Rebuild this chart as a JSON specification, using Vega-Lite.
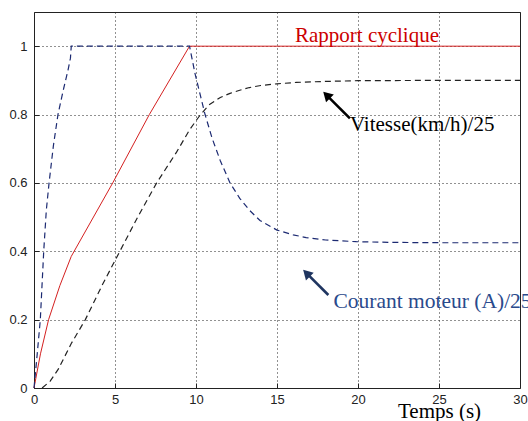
{
  "$schema": "https://vega.github.io/schema/vega-lite/v6.json",
  "width": 486,
  "height": 376,
  "autosize": "none",
  "padding": {"left": 34, "top": 12, "right": 8, "bottom": 33},
  "background": "white",
  "config": {
    "view": {"stroke": "#222", "strokeWidth": 1},
    "axis": {
      "labelFont": "Liberation Sans",
      "labelFontSize": 13,
      "labelColor": "#222",
      "grid": true,
      "gridColor": "#222",
      "gridDash": [1, 3],
      "gridOpacity": 1,
      "gridWidth": 1,
      "domain": false,
      "ticks": true,
      "tickSize": -5,
      "tickColor": "#222"
    }
  },
  "datasets": {
    "curves": [
      {"s": "rapport", "x": 0, "y": 0},
      {"s": "rapport", "x": 0.4, "y": 0.1},
      {"s": "rapport", "x": 0.9, "y": 0.2},
      {"s": "rapport", "x": 1.6, "y": 0.3},
      {"s": "rapport", "x": 2.3, "y": 0.385},
      {"s": "rapport", "x": 4.86, "y": 0.6},
      {"s": "rapport", "x": 7.12, "y": 0.8},
      {"s": "rapport", "x": 9.6, "y": 1.0},
      {"s": "rapport", "x": 30, "y": 1.0},

      {"s": "courant", "x": 0, "y": 0},
      {"s": "courant", "x": 0.2, "y": 0.1},
      {"s": "courant", "x": 0.39, "y": 0.2},
      {"s": "courant", "x": 0.6, "y": 0.4},
      {"s": "courant", "x": 0.76, "y": 0.52},
      {"s": "courant", "x": 0.93, "y": 0.6},
      {"s": "courant", "x": 1.2, "y": 0.71},
      {"s": "courant", "x": 1.48, "y": 0.8},
      {"s": "courant", "x": 1.8, "y": 0.87},
      {"s": "courant", "x": 2.1, "y": 0.93},
      {"s": "courant", "x": 2.25, "y": 0.965},
      {"s": "courant", "x": 2.3, "y": 1.0},
      {"s": "courant", "x": 9.6, "y": 1.0},
      {"s": "courant", "x": 9.94, "y": 0.92},
      {"s": "courant", "x": 10.3, "y": 0.85},
      {"s": "courant", "x": 10.56, "y": 0.8},
      {"s": "courant", "x": 11.0, "y": 0.73},
      {"s": "courant", "x": 11.5, "y": 0.665},
      {"s": "courant", "x": 12.1, "y": 0.6},
      {"s": "courant", "x": 12.7, "y": 0.555},
      {"s": "courant", "x": 13.3, "y": 0.52},
      {"s": "courant", "x": 13.95, "y": 0.49},
      {"s": "courant", "x": 15, "y": 0.462},
      {"s": "courant", "x": 16, "y": 0.448},
      {"s": "courant", "x": 16.8, "y": 0.44},
      {"s": "courant", "x": 18, "y": 0.433},
      {"s": "courant", "x": 19.9, "y": 0.428},
      {"s": "courant", "x": 22, "y": 0.426},
      {"s": "courant", "x": 25, "y": 0.425},
      {"s": "courant", "x": 30, "y": 0.425},

      {"s": "vitesse", "x": 0.5, "y": 0},
      {"s": "vitesse", "x": 1.0, "y": 0.02},
      {"s": "vitesse", "x": 1.5, "y": 0.055},
      {"s": "vitesse", "x": 2.3, "y": 0.13},
      {"s": "vitesse", "x": 3.17, "y": 0.2},
      {"s": "vitesse", "x": 4.2, "y": 0.3},
      {"s": "vitesse", "x": 5.3, "y": 0.4},
      {"s": "vitesse", "x": 6.4, "y": 0.5},
      {"s": "vitesse", "x": 7.57, "y": 0.6},
      {"s": "vitesse", "x": 8.8, "y": 0.69},
      {"s": "vitesse", "x": 9.6, "y": 0.755},
      {"s": "vitesse", "x": 10.2, "y": 0.795},
      {"s": "vitesse", "x": 10.8, "y": 0.828},
      {"s": "vitesse", "x": 11.5, "y": 0.85},
      {"s": "vitesse", "x": 12.1, "y": 0.862},
      {"s": "vitesse", "x": 12.7, "y": 0.871},
      {"s": "vitesse", "x": 13.3, "y": 0.879},
      {"s": "vitesse", "x": 14, "y": 0.885},
      {"s": "vitesse", "x": 15, "y": 0.89},
      {"s": "vitesse", "x": 16.2, "y": 0.894},
      {"s": "vitesse", "x": 18, "y": 0.897},
      {"s": "vitesse", "x": 20, "y": 0.899},
      {"s": "vitesse", "x": 25, "y": 0.9},
      {"s": "vitesse", "x": 30, "y": 0.9}
    ],
    "notes": [
      {"label": "Rapport cyclique", "x": 16.11, "y": 1.0126},
      {"label": "Vitesse(km/h)/25", "x": 19.5, "y": 0.7515},
      {"label": "Courant moteur (A)/25", "x": 18.48, "y": 0.233}
    ],
    "arrows": [
      {"a": "vitesse", "x": 19.5, "y": 0.789, "x2": 18.06, "y2": 0.857},
      {"a": "courant", "x": 18.17, "y": 0.272, "x2": 16.82, "y2": 0.336}
    ],
    "heads": [
      {"a": "vitesse", "x": 18.06, "y": 0.857},
      {"a": "courant", "x": 16.82, "y": 0.336}
    ]
  },
  "encoding": {
    "x": {
      "field": "x",
      "type": "quantitative",
      "scale": {"domain": [0, 30], "nice": false, "zero": false},
      "axis": {
        "values": [0, 5, 10, 15, 20, 25, 30],
        "labelFlush": false,
        "labelPadding": 10,
        "title": "Temps (s)",
        "titleFont": "Liberation Serif",
        "titleFontSize": 21,
        "titleFontWeight": "normal",
        "titleColor": "#000",
        "titleX": 405,
        "titleY": 29,
        "titleAlign": "center",
        "titleBaseline": "alphabetic"
      }
    },
    "y": {
      "field": "y",
      "type": "quantitative",
      "scale": {"domain": [0, 1.1], "nice": false, "zero": false},
      "axis": {
        "values": [0, 0.2, 0.4, 0.6, 0.8, 1],
        "format": "~g",
        "labelPadding": 12,
        "labelFlush": false,
        "title": null
      }
    }
  },
  "layer": [
    {
      "data": {"name": "curves"},
      "transform": [{"filter": "datum.s === 'rapport'"}],
      "mark": {"type": "line", "color": "#d42020", "strokeWidth": 1}
    },
    {
      "data": {"name": "curves"},
      "transform": [{"filter": "datum.s === 'courant'"}],
      "mark": {"type": "line", "color": "#1c2a72", "strokeWidth": 1.2, "strokeDash": [6, 4]}
    },
    {
      "data": {"name": "curves"},
      "transform": [{"filter": "datum.s === 'vitesse'"}],
      "mark": {"type": "line", "color": "#222222", "strokeWidth": 1.2, "strokeDash": [6, 4]}
    },
    {
      "data": {"name": "notes"},
      "transform": [{"filter": "datum.label === 'Rapport cyclique'"}],
      "mark": {"type": "text", "font": "Liberation Serif", "fontSize": 21, "color": "#cc0000", "align": "left", "baseline": "alphabetic"},
      "encoding": {"text": {"field": "label"}}
    },
    {
      "data": {"name": "notes"},
      "transform": [{"filter": "datum.label === 'Vitesse(km/h)/25'"}],
      "mark": {"type": "text", "font": "Liberation Serif", "fontSize": 21, "color": "#000000", "align": "left", "baseline": "alphabetic"},
      "encoding": {"text": {"field": "label"}}
    },
    {
      "data": {"name": "notes"},
      "transform": [{"filter": "datum.label === 'Courant moteur (A)/25'"}],
      "mark": {"type": "text", "font": "Liberation Serif", "fontSize": 21.5, "color": "#2a4a8c", "align": "left", "baseline": "alphabetic"},
      "encoding": {"text": {"field": "label"}}
    },
    {
      "data": {"name": "arrows"},
      "transform": [{"filter": "datum.a === 'vitesse'"}],
      "mark": {"type": "rule", "color": "#000000", "strokeWidth": 2.6},
      "encoding": {"x2": {"field": "x2"}, "y2": {"field": "y2"}}
    },
    {
      "data": {"name": "arrows"},
      "transform": [{"filter": "datum.a === 'courant'"}],
      "mark": {"type": "rule", "color": "#1f3560", "strokeWidth": 2.6},
      "encoding": {"x2": {"field": "x2"}, "y2": {"field": "y2"}}
    },
    {
      "data": {"name": "heads"},
      "transform": [{"filter": "datum.a === 'vitesse'"}],
      "mark": {"type": "point", "shape": "triangle-up", "filled": true, "color": "#000000", "size": 120, "angle": 315, "opacity": 1}
    },
    {
      "data": {"name": "heads"},
      "transform": [{"filter": "datum.a === 'courant'"}],
      "mark": {"type": "point", "shape": "triangle-up", "filled": true, "color": "#1f3560", "size": 120, "angle": 315, "opacity": 1}
    }
  ]
}
